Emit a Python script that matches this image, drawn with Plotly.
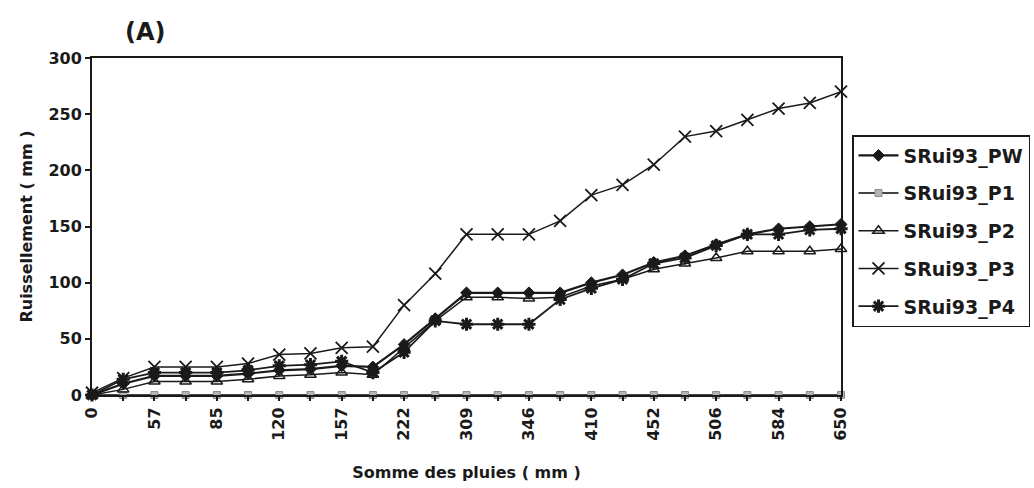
import plotly.graph_objects as go

# Category labels shown on the x axis (every other category carries a label)
x_labels = ["0", "57", "85", "120", "157", "222", "309", "346", "410", "452", "506", "584", "650"]

# Series values (25 categories)
pw = [0, 10, 17, 17, 17, 19, 22, 23, 26, 25, 45, 68, 91, 91, 91, 91, 100, 107, 118, 124, 134, 143, 148, 150, 152]
p1 = [0, 0, 0, 0, 0, 0, 0, 0, 0, 0, 0, 0, 0, 0, 0, 0, 0, 0, 0, 0, 0, 0, 0, 0, 0]
p2 = [0, 5, 12, 12, 12, 14, 17, 18, 20, 18, 42, 66, 87, 87, 86, 87, 97, 103, 112, 117, 122, 128, 128, 128, 130]
p3 = [2, 15, 25, 25, 25, 28, 36, 37, 42, 43, 80, 108, 143, 143, 143, 155, 178, 187, 205, 230, 235, 245, 255, 260, 270]
p4 = [0, 14, 20, 20, 20, 22, 26, 27, 30, 20, 38, 66, 63, 63, 63, 85, 95, 103, 117, 122, 133, 143, 143, 147, 148]

series_names = ["SRui93_PW", "SRui93_P1", "SRui93_P2", "SRui93_P3", "SRui93_P4"]

n = len(pw)
x = list(range(n))
tick_text = []
for i in range(n):
    tick_text.append(x_labels[i // 2] if i % 2 == 0 else "")

FONT = "DejaVu Sans"
INK = "#1a1a1a"

W, H = 1034, 488
L, R, T, B = 92, 193, 58, 93
PW_ = W - L - R
PH_ = H - T - B

styles = [
    dict(line=dict(color=INK, width=2.2),
         marker=dict(symbol="diamond", size=9, color=INK, line=dict(color=INK, width=1))),
    dict(line=dict(color="#444444", width=2),
         marker=dict(symbol="square", size=7, color="#b5b5b5", line=dict(color="#8a8a8a", width=1))),
    dict(line=dict(color=INK, width=1.5),
         marker=dict(symbol="triangle-up-open", size=10, color=INK, line=dict(color=INK, width=1.5))),
    dict(line=dict(color=INK, width=1.5),
         marker=dict(symbol="x-thin-open", size=12, color=INK, line=dict(color=INK, width=1.8))),
    dict(line=dict(color=INK, width=1.8),
         marker=dict(symbol="asterisk-open", size=11, color=INK, line=dict(color=INK, width=3))),
]

fig = go.Figure()
for name, vals, st in zip(series_names, [pw, p1, p2, p3, p4], styles):
    fig.add_trace(go.Scatter(x=x, y=vals, mode="lines+markers", name=name,
                             legendgroup=name, line=st["line"], marker=st["marker"],
                             cliponaxis=False))

fig.update_layout(
    width=W, height=H,
    paper_bgcolor="white", plot_bgcolor="white",
    margin=dict(l=L, r=R, t=T, b=B, autoexpand=False),
    font=dict(family=FONT, color=INK, size=15),
    showlegend=True,
    legend=dict(
        x=(852 - L) / PW_, y=(H - B - 135) / PH_, xanchor="left", yanchor="top",
        bordercolor=INK, borderwidth=1.5, bgcolor="white",
        font=dict(family=FONT, size=19, color=INK, weight="bold"),
        traceorder="grouped", tracegroupgap=10,
        itemwidth=40,
    ),
    annotations=[
        dict(text="<b>(A)</b>", x=(145 - L) / PW_, y=(H - B - 32) / PH_,
             xref="paper", yref="paper", xanchor="center", yanchor="middle",
             showarrow=False, font=dict(size=24, family=FONT, color=INK)),
    ],
)

fig.update_xaxes(
    range=[0, n - 1],
    tickmode="array", tickvals=x, ticktext=tick_text,
    tickangle=-90,
    tickfont=dict(family=FONT, size=16, color=INK, weight="bold"),
    ticks="outside", ticklen=4, tickcolor=INK, tickwidth=1.5,
    showline=True, linecolor=INK, linewidth=2, mirror=True,
    showgrid=False, zeroline=False,
    title=dict(text="<b>Somme des pluies ( mm )</b>", font=dict(size=16, family=FONT, color=INK), standoff=27),
)
fig.update_yaxes(
    range=[0, 300], tickvals=[0, 50, 100, 150, 200, 250, 300],
    tickfont=dict(family=FONT, size=16, color=INK, weight="bold"),
    ticks="outside", ticklen=5, tickcolor=INK, tickwidth=1.5,
    showline=True, linecolor=INK, linewidth=2, mirror=True,
    showgrid=False, zeroline=False,
    title=dict(text="<b>Ruissellement ( mm )</b>", font=dict(size=16, family=FONT, color=INK), standoff=12),
)

fig.write_html(
    "out.html",
    config={"displayModeBar": False},
    post_script="document.body.style.margin='0';document.body.style.overflow='hidden';",
)
